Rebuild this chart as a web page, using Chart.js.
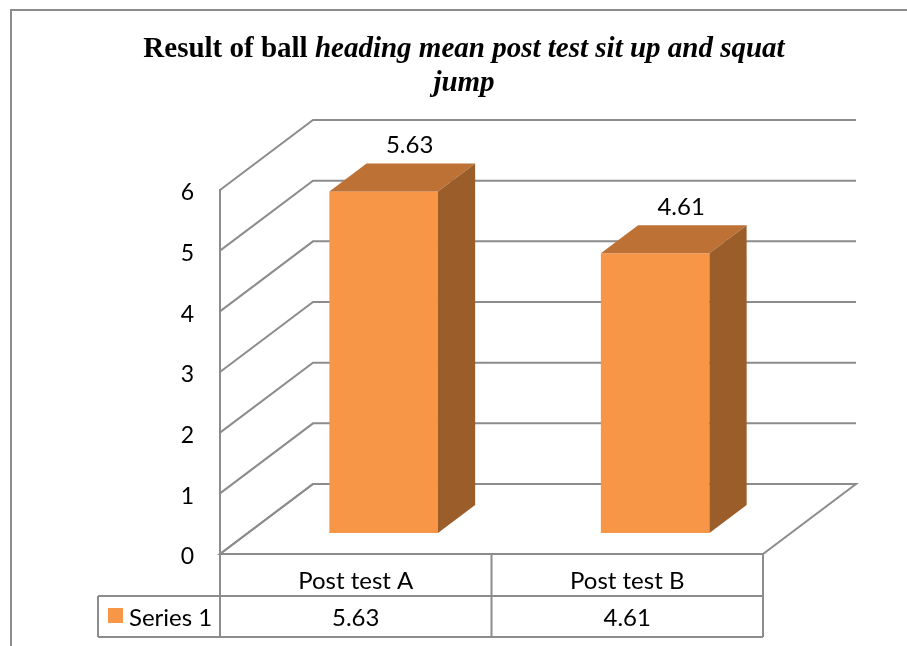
<!DOCTYPE html>
<html lang="en">
  <head>
    <meta charset="UTF-8" />
    <title>Result of ball heading mean post test</title>
    <script src="https://cdn.jsdelivr.net/npm/chart.js"></script>
    <style>
      body {
        margin: 0;
        background-color: #ffffff;
      }
    </style>
  </head>
  <body>
    <canvas id="grafico" width="907" height="646"></canvas>

    <script>
      const categorias = ["Post test A", "Post test B"];
      const nomeSerie = "Series 1";
      const valores = [5.63, 4.61];
      const rotulosY = [0, 1, 2, 3, 4, 5, 6];
      const tituloNormal = "Result of ball ";
      const tituloItalico = "heading mean post test sit up and squat";
      const tituloLinha2 = "jump";

      // profundidade da caixa 3D (frente -> fundo)
      const DX = 93;
      const DY = -70;
      const BARRA_INICIO = 0.3;
      const BARRA_FUNDO = 0.4;

      const CINZA = "#8c8c8c";
      const LARANJA = "#f79646";
      const TOPO = "#bd7134";
      const LADO = "#9b5e2b";

      const pluginParedes = {
        id: "paredes",
        beforeDatasetsDraw(chart) {
          const { ctx, chartArea: a } = chart;
          const y = chart.scales.y;
          ctx.save();
          ctx.strokeStyle = CINZA;
          ctx.lineWidth = 2;
          // chao
          ctx.beginPath();
          ctx.moveTo(a.left, a.bottom);
          ctx.lineTo(a.right, a.bottom);
          ctx.lineTo(a.right + DX, a.bottom + DY);
          ctx.lineTo(a.left + DX, a.bottom + DY);
          ctx.closePath();
          ctx.stroke();
          // linhas de grade na parede lateral e no fundo
          rotulosY.forEach((v) => {
            const py = y.getPixelForValue(v);
            ctx.beginPath();
            ctx.moveTo(a.left, py);
            ctx.lineTo(a.left + DX, py + DY);
            ctx.lineTo(a.right + DX, py + DY);
            ctx.stroke();
          });
          ctx.restore();
        },
        afterDatasetsDraw(chart) {
          const { ctx } = chart;
          const meta = chart.getDatasetMeta(0);
          const dx = DX * BARRA_FUNDO;
          const dy = DY * BARRA_FUNDO;
          ctx.save();
          meta.data.forEach((barra, i) => {
            const w = barra.width;
            const x0 = barra.x - w / 2 + DX * BARRA_INICIO;
            const topo = barra.y + DY * BARRA_INICIO;
            const base = barra.base + DY * BARRA_INICIO;

            ctx.fillStyle = LARANJA;
            ctx.fillRect(x0, topo, w, base - topo);

            ctx.fillStyle = TOPO;
            ctx.beginPath();
            ctx.moveTo(x0, topo);
            ctx.lineTo(x0 + dx, topo + dy);
            ctx.lineTo(x0 + w + dx, topo + dy);
            ctx.lineTo(x0 + w, topo);
            ctx.closePath();
            ctx.fill();

            ctx.fillStyle = LADO;
            ctx.beginPath();
            ctx.moveTo(x0 + w, topo);
            ctx.lineTo(x0 + w + dx, topo + dy);
            ctx.lineTo(x0 + w + dx, base + dy);
            ctx.lineTo(x0 + w, base);
            ctx.closePath();
            ctx.fill();

            // rotulo do valor
            ctx.fillStyle = "#000000";
            ctx.font = "24px Lato";
            ctx.textAlign = "center";
            ctx.textBaseline = "alphabetic";
            ctx.fillText(valores[i].toFixed(2), x0 + w / 2 + 26, topo + dy - 10);
          });
          ctx.restore();
        },
        afterDraw(chart) {
          const { ctx, chartArea: a } = chart;
          const x = chart.scales.x;
          ctx.save();

          // moldura
          ctx.strokeStyle = CINZA;
          ctx.lineWidth = 2;
          ctx.strokeRect(11, 10, 1000, 1000);

          // titulo
          ctx.fillStyle = "#000000";
          ctx.textBaseline = "alphabetic";
          ctx.textAlign = "left";
          const fNormal = "bold 29px 'Liberation Serif'";
          const fItalico = "italic bold 29px 'Liberation Serif'";
          ctx.font = fNormal;
          const w1 = ctx.measureText(tituloNormal).width;
          ctx.font = fItalico;
          const w2 = ctx.measureText(tituloItalico).width;
          const cx = 464;
          let xt = cx - (w1 + w2) / 2;
          ctx.font = fNormal;
          ctx.fillText(tituloNormal, xt, 57);
          ctx.font = fItalico;
          ctx.fillText(tituloItalico, xt + w1, 57);
          ctx.textAlign = "center";
          ctx.fillText(tituloLinha2, cx, 91);

          // tabela de dados
          const linha1 = a.bottom + 42;
          const linha2 = a.bottom + 83;
          const esq = 98;
          const larg = x.width / categorias.length;
          ctx.strokeStyle = CINZA;
          ctx.lineWidth = 2;
          ctx.beginPath();
          ctx.moveTo(esq, linha1);
          ctx.lineTo(a.right, linha1);
          ctx.moveTo(esq, linha2);
          ctx.lineTo(a.right, linha2);
          ctx.moveTo(esq, linha1);
          ctx.lineTo(esq, linha2);
          ctx.moveTo(a.left, a.bottom);
          ctx.lineTo(a.left, linha2);
          categorias.forEach((c, i) => {
            const xd = x.getPixelForValue(i) + larg / 2;
            ctx.moveTo(xd, a.bottom);
            ctx.lineTo(xd, linha2);
          });
          ctx.stroke();

          ctx.fillStyle = "#000000";
          ctx.font = "24px Lato";
          ctx.textAlign = "center";
          categorias.forEach((c, i) => {
            const xc = x.getPixelForValue(i);
            ctx.fillText(c, xc, linha1 - 7);
            ctx.fillText(valores[i].toFixed(2), xc, linha2 - 11);
          });

          ctx.fillStyle = LARANJA;
          ctx.fillRect(108, linha1 + 12, 15, 15);
          ctx.fillStyle = "#000000";
          ctx.textAlign = "left";
          ctx.fillText(nomeSerie, 129, linha2 - 11);

          ctx.restore();
        },
      };

      Chart.defaults.font.family = "Lato";

      new Chart(document.getElementById("grafico"), {
        type: "bar",
        data: {
          labels: categorias,
          datasets: [
            {
              label: nomeSerie,
              data: valores,
              backgroundColor: "rgba(0,0,0,0)",
              borderWidth: 0,
              barPercentage: 0.4,
              categoryPercentage: 1,
            },
          ],
        },
        options: {
          responsive: false,
          animation: false,
          layout: {
            autoPadding: false,
            padding: { top: 190, bottom: 92, left: 0, right: 144 },
          },
          plugins: {
            legend: { display: false },
            tooltip: { enabled: false },
          },
          scales: {
            x: { display: false },
            y: {
              min: 0,
              max: 6,
              afterFit: (s) => {
                s.width = 220;
              },
              ticks: {
                stepSize: 1,
                color: "#000000",
                font: { size: 23 },
                padding: 26,
                labelOffset: 3,
              },
              grid: { display: false, drawTicks: false },
              border: { display: true, color: CINZA, width: 2 },
            },
          },
        },
        plugins: [pluginParedes],
      });
    </script>
  </body>
</html>
